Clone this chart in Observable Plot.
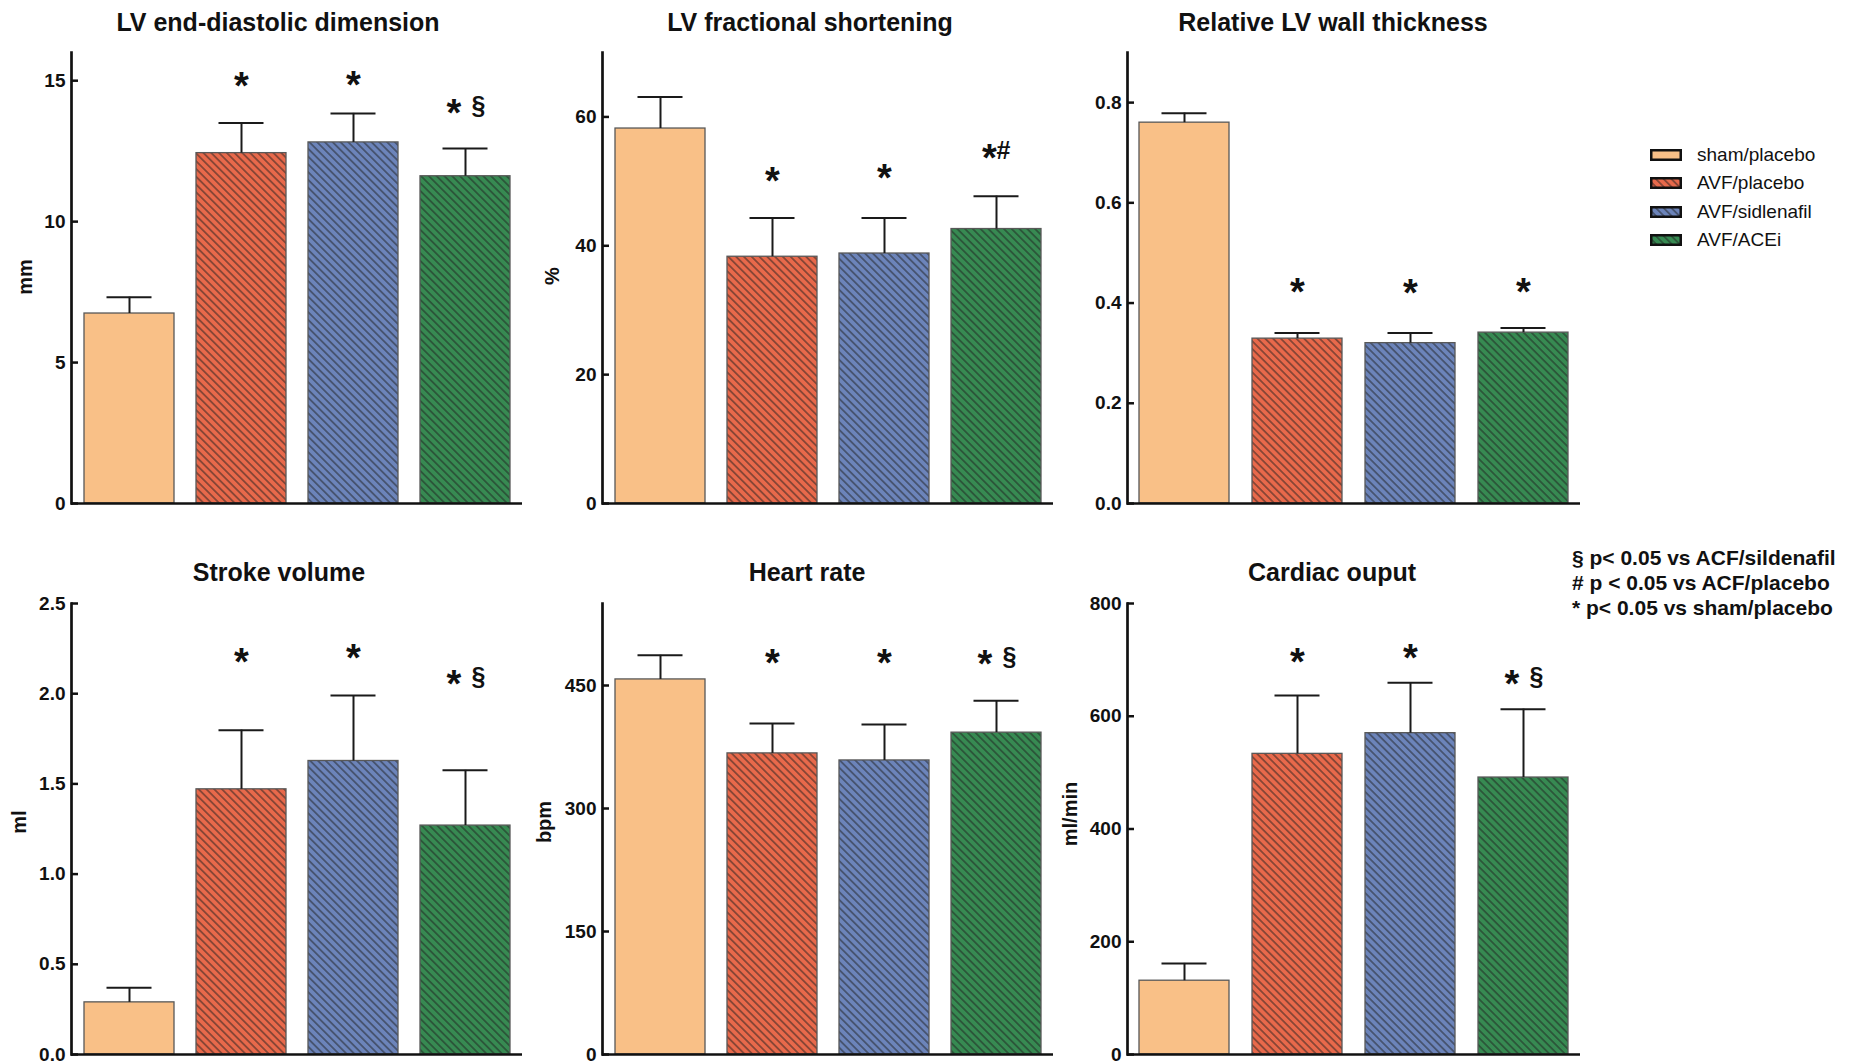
<!DOCTYPE html>
<html>
<head>
<meta charset="utf-8">
<script src="https://cdn.jsdelivr.net/npm/d3@7"></script>
<script src="https://cdn.jsdelivr.net/npm/@observablehq/plot@0.6"></script>
<style>
  body { margin: 0; background: #fff; }
  #page { position: relative; width: 1851px; height: 1061px; overflow: hidden;
          font-family: "Liberation Sans", Arial, sans-serif; color: #111; }
  .panel { position: absolute; }
  .title { position: absolute; font-weight: bold; font-size: 25px; white-space: nowrap;
           transform: translate(-50%, -50%); }
  .ylab { position: absolute; font-weight: bold; font-size: 20px; white-space: nowrap;
          transform: translate(-50%, -50%) rotate(-90deg); }
  .legend { position: absolute; left: 1650px; top: 141px; }
  .legend .row { display: flex; align-items: center; height: 28.3px; font-size: 19px; }
  .legend svg { margin-right: 15px; }
  .notes { position: absolute; left: 1572px; top: 545px; font-weight: bold; font-size: 21px;
           line-height: 25px; white-space: nowrap; }
</style>
</head>
<body>
<div id="page">
  <svg width="0" height="0" style="position:absolute"><defs id="defs"></defs></svg>
</div>
<script>
// Treatment groups and their colours
const groups = ["sham/placebo", "AVF/placebo", "AVF/sidlenafil", "AVF/ACEi"];
const colors = ["#F9C087", "#E8694B", "#6C84BA", "#378A52"];
const hatched = [false, true, true, true];

// LV end-diastolic dimension (mm), mean and SEM
const eddMean = [6.74, 12.43, 12.81, 11.61];
const eddSem = [0.58, 1.07, 1.03, 0.98];
const eddSig = ["", "*", "*", "* §"];
const eddSigY = [null, 15.04, 15.09, 14.09];

// LV fractional shortening (%)
const fsMean = [58.2, 38.3, 38.8, 42.6];
const fsSem = [4.9, 6.0, 5.5, 5.1];
const fsSig = ["", "*", "*", "*#"];
const fsSigY = [null, 51.1, 51.6, 54.7];

// Relative LV wall thickness
const rwtMean = [0.760, 0.329, 0.320, 0.341];
const rwtSem = [0.019, 0.011, 0.020, 0.009];
const rwtSig = ["", "*", "*", "*"];
const rwtSigY = [null, 0.435, 0.434, 0.435];

// Stroke volume (ml)
const svMean = [0.289, 1.470, 1.627, 1.269];
const svSem = [0.081, 0.328, 0.363, 0.306];
const svSig = ["", "*", "*", "* §"];
const svSigY = [null, 2.213, 2.237, 2.093];

// Heart rate (bpm)
const hrMean = [457.4, 367.2, 358.6, 392.5];
const hrSem = [29.4, 36.4, 43.8, 38.9];
const hrSig = ["", "*", "*", "* §"];
const hrSigY = [null, 485.5, 485.5, 484.7];

// Cardiac output (ml/min)
const coMean = [130.9, 533.3, 570.0, 491.3];
const coSem = [30.7, 103.3, 89.5, 121.3];
const coSig = ["", "*", "*", "* §"];
const coSigY = [null, 708, 716, 669.7];

// Axis ticks
const eddTicks = [0, 5, 10, 15];
const fsTicks = [0, 20, 40, 60];
const rwtTicks = [0, 0.2, 0.4, 0.6, 0.8];
const svTicks = [0, 0.5, 1.0, 1.5, 2.0, 2.5];
const hrTicks = [0, 150, 300, 450];
const coTicks = [0, 200, 400, 600, 800];

const legendLabels = groups;
const notes = ["§ p< 0.05 vs ACF/sildenafil", "# p < 0.05 vs ACF/placebo", "* p< 0.05 vs sham/placebo"];

const page = document.getElementById("page");

// Diagonal hatch patterns for the AVF groups
const defs = d3.select("#defs");
const fills = groups.map((g, i) => {
  if (!hatched[i]) return colors[i];
  const id = `hatch-${i}`;
  const s = 5.5;
  const p = defs.append("pattern").attr("id", id).attr("patternUnits", "userSpaceOnUse")
    .attr("width", s).attr("height", s).attr("patternTransform", "rotate(-45)");
  p.append("rect").attr("width", s).attr("height", s).attr("fill", colors[i]);
  p.append("line").attr("x1", s / 2).attr("x2", s / 2).attr("y1", 0).attr("y2", s)
    .attr("stroke", "#1e1e1e").attr("stroke-opacity", 0.8).attr("stroke-width", 1.1);
  return `url(#${id})`;
});

// Where the pieces of each significance label sit relative to the bar centre
const sigParts = {"*": [["*", 0]], "* §": [["*", -11.5], ["§", 13]], "*#": [["*", -7], ["#", 7]]};

const cols = [
  {left: 0, width: 540, marginLeft: 71, marginRight: 18},
  {left: 530, width: 540, marginLeft: 72, marginRight: 17},
  {left: 1055, width: 545, marginLeft: 72, marginRight: 20}
];
const rows = [
  {top: 0, height: 520, marginTop: 52, marginBottom: 17},
  {top: 540, height: 521, marginTop: 63, marginBottom: 7}
];

const panels = [
  {col: 0, row: 0, title: "LV end-diastolic dimension", titleX: 278, ylab: "mm", ylabX: 25, ylabY: 277,
   mean: eddMean, sem: eddSem, sig: eddSig, sigY: eddSigY, domain: [0, 16], ticks: eddTicks, fmt: d3.format("d")},
  {col: 1, row: 0, title: "LV fractional shortening", titleX: 810, ylab: "%", ylabX: 552, ylabY: 276,
   mean: fsMean, sem: fsSem, sig: fsSig, sigY: fsSigY, domain: [0, 70], ticks: fsTicks, fmt: d3.format("d")},
  {col: 2, row: 0, title: "Relative LV wall thickness", titleX: 1333, ylab: null,
   mean: rwtMean, sem: rwtSem, sig: rwtSig, sigY: rwtSigY, domain: [0, 0.9], ticks: rwtTicks, fmt: d3.format(".1f")},
  {col: 0, row: 1, title: "Stroke volume", titleX: 279, ylab: "ml", ylabX: 19, ylabY: 822,
   mean: svMean, sem: svSem, sig: svSig, sigY: svSigY, domain: [0, 2.5], ticks: svTicks, fmt: d3.format(".1f")},
  {col: 1, row: 1, title: "Heart rate", titleX: 807, ylab: "bpm", ylabX: 544, ylabY: 822,
   mean: hrMean, sem: hrSem, sig: hrSig, sigY: hrSigY, domain: [0, 550], ticks: hrTicks, fmt: d3.format("d")},
  {col: 2, row: 1, title: "Cardiac ouput", titleX: 1332, ylab: "ml/min", ylabX: 1070, ylabY: 814,
   mean: coMean, sem: coSem, sig: coSig, sigY: coSigY, domain: [0, 800], ticks: coTicks, fmt: d3.format("d")}
];

const titleY = [22, 572];

for (const p of panels) {
  const c = cols[p.col], r = rows[p.row];
  const data = groups.map((g, i) => ({group: g, mean: p.mean[i], hi: p.mean[i] + p.sem[i], sig: p.sig[i], sigY: p.sigY[i]}));

  const sigMarks = [];
  for (const [label, parts] of Object.entries(sigParts)) {
    const sub = data.filter(d => d.sig === label);
    if (!sub.length) continue;
    for (const [sym, dx] of parts) {
      const star = sym === "*";
      sigMarks.push(Plot.text(sub, {
        x: "group", y: "sigY", text: () => sym, dx,
        dy: star ? 7.5 : 0,
        fontSize: star ? 38 : 25, fontWeight: "bold", fill: "#111", lineAnchor: "middle"
      }));
    }
  }

  const chart = Plot.plot({
    width: c.width, height: r.height,
    marginLeft: c.marginLeft, marginRight: c.marginRight,
    marginTop: r.marginTop, marginBottom: r.marginBottom,
    style: {fontFamily: "'Liberation Sans', Arial, sans-serif", fontSize: "19px", fontWeight: "bold",
            color: "#111", background: "transparent", overflow: "visible"},
    x: {domain: groups, paddingInner: 0.2, paddingOuter: 0.096, axis: null},
    y: {domain: p.domain, axis: null},
    color: {domain: groups, range: fills},
    marks: [
      Plot.barY(data, {x: "group", y: "mean", fill: "group", stroke: "#585858", strokeWidth: 1.3}),
      Plot.ruleX(data, {x: "group", y1: "mean", y2: "hi", stroke: "#1a1a1a", strokeWidth: 2}),
      Plot.tickY(data, {x: "group", y: "hi", stroke: "#1a1a1a", strokeWidth: 2, insetLeft: 22.5, insetRight: 22.5}),
      Plot.ruleY([0], {stroke: "#111", strokeWidth: 2.7}),
      Plot.frame({anchor: "left", stroke: "#111", strokeWidth: 2.7}),
      Plot.axisY({ticks: p.ticks, tickFormat: p.fmt, tickSize: -7, tickPadding: 13, strokeWidth: 2.5,
                  stroke: "#111", fill: "#111", fontSize: 19, fontWeight: "bold", label: null}),
      ...sigMarks
    ]
  });
  chart.classList.add("panel");
  chart.style.left = c.left + "px";
  chart.style.top = r.top + "px";
  page.appendChild(chart);

  const t = document.createElement("div");
  t.className = "title";
  t.textContent = p.title;
  t.style.left = p.titleX + "px";
  t.style.top = titleY[p.row] + "px";
  page.appendChild(t);

  if (p.ylab) {
    const yl = document.createElement("div");
    yl.className = "ylab";
    yl.textContent = p.ylab;
    yl.style.left = p.ylabX + "px";
    yl.style.top = p.ylabY + "px";
    page.appendChild(yl);
  }
}

// Legend
const legend = d3.select(page).append("div").attr("class", "legend");
legendLabels.forEach((g, i) => {
  const row = legend.append("div").attr("class", "row");
  const sw = row.append("svg").attr("width", 32).attr("height", 12);
  sw.append("rect").attr("x", 1.25).attr("y", 1.25).attr("width", 29.5).attr("height", 9.5)
    .attr("fill", fills[i]).attr("stroke", "#111").attr("stroke-width", 2.5);
  row.append("span").text(g);
});

// Significance key
const key = d3.select(page).append("div").attr("class", "notes");
notes.forEach(n => key.append("div").text(n));
</script>
</body>
</html>
